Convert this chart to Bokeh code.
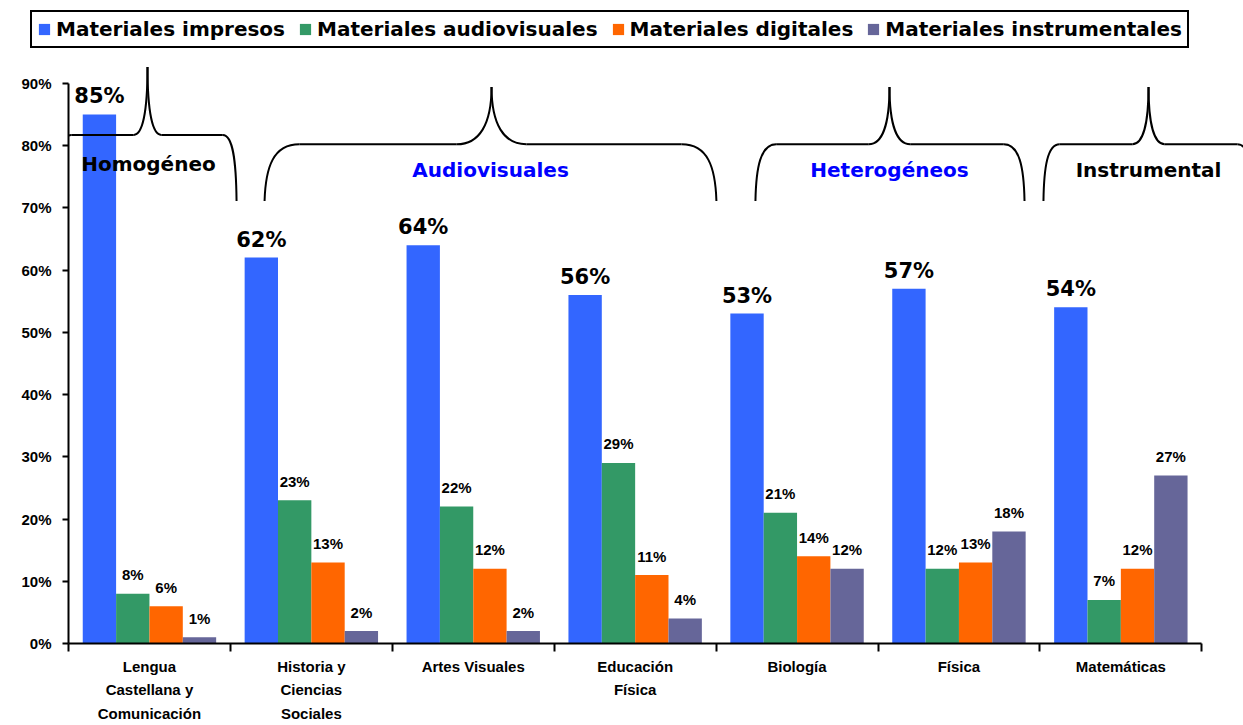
from bokeh.plotting import figure
from bokeh.models import ColumnDataSource, Range1d, FixedTicker, Legend, LegendItem
from bokeh.transform import dodge
from bokeh.core.properties import value
from bokeh.embed import file_html
from bokeh.resources import INLINE

# ---------------- data ----------------
categories = [
    "Lengua\nCastellana y\nComunicación",
    "Historia y\nCiencias\nSociales",
    "Artes Visuales",
    "Educación\nFísica",
    "Biología",
    "Física",
    "Matemáticas",
]
series_names = [
    "Materiales impresos",
    "Materiales audiovisuales",
    "Materiales digitales",
    "Materiales instrumentales",
]
impresos = [85, 62, 64, 56, 53, 57, 54]
audiovisuales = [8, 23, 22, 29, 21, 12, 7]
digitales = [6, 13, 12, 11, 14, 13, 12]
instrumentales = [1, 2, 2, 4, 12, 18, 27]
y_ticks = [0, 10, 20, 30, 40, 50, 60, 70, 80, 90]
group_names = ["Homogéneo", "Audiovisuales", "Heterogéneos", "Instrumental"]

# ---------------- style / layout ----------------
series_colors = ["#3366FF", "#339966", "#FF6600", "#666699"]
group_colors = ["#000000", "#0000FF", "#0000FF", "#000000"]

W = 1243
TOP_H = 61
H = 725 - TOP_H
BORDER_LEFT, BORDER_TOP, BORDER_BOTTOM = 68, 0, 81
PX_PER_CAT = 161.9
Y_END = 93.5
PX_PER_PCT = (H - BORDER_TOP - BORDER_BOTTOM) / Y_END

x_start = 0
x_end = (W - BORDER_LEFT) / PX_PER_CAT

BAR_W = 0.206
offsets = [-1.5 * BAR_W, -0.5 * BAR_W, 0.5 * BAR_W, 1.5 * BAR_W]

LBL_FONT = "Liberation Sans"
BIG_FONT = "DejaVu Sans"

# ---------------- legend strip ----------------
top = figure(width=W, height=TOP_H, x_range=Range1d(0, 1), y_range=Range1d(0, 1),
             output_backend="svg", toolbar_location=None,
             x_axis_location=None, y_axis_location=None,
             min_border_left=0, min_border_right=0, min_border_top=0, min_border_bottom=0)
top.outline_line_color = None
top.grid.visible = False
top.background_fill_color = "white"
top.border_fill_color = "white"
swatches = [top.vbar(x=[0.5], top=[0], bottom=[0], width=0.01, fill_color=c, line_color=None)
            for c in series_colors]
legend = Legend(items=[LegendItem(label=s, renderers=[r]) for s, r in zip(series_names, swatches)],
                orientation="horizontal", location=(30, 13), margin=0,
                border_line_color="black", border_line_width=2, border_line_alpha=1,
                background_fill_color="white", background_fill_alpha=1,
                padding=5, spacing=13, label_standoff=5,
                glyph_width=14, glyph_height=14,
                label_text_font=BIG_FONT, label_text_font_style="bold",
                label_text_font_size="20px", label_text_color="black")
top.add_layout(legend)

# ---------------- main chart ----------------
p = figure(width=W, height=H, x_range=Range1d(x_start, x_end), y_range=Range1d(0, Y_END),
           output_backend="svg", toolbar_location=None,
           min_border_left=BORDER_LEFT, min_border_right=0,
           min_border_top=BORDER_TOP, min_border_bottom=BORDER_BOTTOM)
p.outline_line_color = None
p.grid.visible = False
p.background_fill_color = "white"
p.border_fill_color = "white"

n = len(categories)
centers = [i + 0.5 for i in range(n)]
data = dict(x=centers)
cols = ["impresos", "audiovisuales", "digitales", "instrumentales"]
for c, vals in zip(cols, [impresos, audiovisuales, digitales, instrumentales]):
    data[c] = vals
    data[c + "_lbl"] = [f"{v}%" for v in vals]
source = ColumnDataSource(data)

for k, c in enumerate(cols):
    p.vbar(x=dodge("x", offsets[k]), top=c, width=BAR_W, source=source,
           fill_color=series_colors[k], line_color=None)
    if k == 0:
        p.text(x=dodge("x", offsets[k]), y=c, text=c + "_lbl", source=source,
               text_align="center", text_baseline="alphabetic", y_offset=-18,
               text_font=value(BIG_FONT), text_font_style="bold", text_font_size="21px",
               text_color="black")
    else:
        p.text(x=dodge("x", offsets[k]), y=c, text=c + "_lbl", source=source,
               text_align="center", text_baseline="alphabetic", y_offset=-19,
               text_font=value(LBL_FONT), text_font_style="bold", text_font_size="15px",
               text_color="black")

# y axis
p.yaxis.ticker = FixedTicker(ticks=y_ticks)
p.yaxis.major_label_overrides = {t: f"{t}%" for t in y_ticks}
p.yaxis.bounds = (0, y_ticks[-1])
p.yaxis.axis_line_width = 2
p.yaxis.axis_line_color = "black"
p.yaxis.major_tick_out = 6
p.yaxis.major_tick_in = 0
p.yaxis.major_tick_line_width = 2
p.yaxis.minor_tick_line_color = None
p.yaxis.major_label_standoff = 11
p.yaxis.major_label_text_font = LBL_FONT
p.yaxis.major_label_text_font_style = "bold"
p.yaxis.major_label_text_font_size = "15px"
p.yaxis.major_label_text_color = "black"

# x axis: labels at category centres, tick marks at category boundaries
p.xaxis.ticker = FixedTicker(ticks=centers, minor_ticks=list(range(n + 1)))
p.xaxis.major_label_overrides = {c: lab for c, lab in zip(centers, categories)}
p.xaxis.bounds = (0, n)
p.xaxis.axis_line_width = 2
p.xaxis.axis_line_color = "black"
p.xaxis.major_tick_out = 8
p.xaxis.major_tick_in = 0
p.xaxis.major_tick_line_color = None
p.xaxis.minor_tick_out = 8
p.xaxis.minor_tick_in = 0
p.xaxis.minor_tick_line_width = 2
p.xaxis.minor_tick_line_color = "black"
p.xaxis.major_label_standoff = 6
p.xaxis.major_label_text_font = LBL_FONT
p.xaxis.major_label_text_font_style = "bold"
p.xaxis.major_label_text_font_size = "15px"
p.xaxis.major_label_text_line_height = 1.4
p.xaxis.major_label_text_color = "black"

# braces (annotation geometry, category / percent units)
brace_left = [-0.068, 1.211, 4.243, 6.022]
brace_right = [1.038, 4.002, 5.905, 7.32]
brace_peak = [0.488, 2.613, 5.071, 6.671]
brace_bar_y = [81.7, 80.2, 80.2, 80.2]
brace_top_y = [92.6, 89.4, 89.4, 89.4]
brace_end_y = 71.1
group_label_x = [0.494, 2.607, 5.071, 6.671]
group_label_y = [77.0, 76.1, 76.1, 76.1]

bz = dict(x0=[], y0=[], x1=[], y1=[], cx0=[], cy0=[], cx1=[], cy1=[])
sg = dict(x0=[], y0=[], x1=[], y1=[])


def add_bz(x0, y0, cx0, cy0, cx1, cy1, x1, y1):
    for k, v in zip(["x0", "y0", "cx0", "cy0", "cx1", "cy1", "x1", "y1"],
                    [x0, y0, cx0, cy0, cx1, cy1, x1, y1]):
        bz[k].append(v)


for xl, xr, xp, yb, yt in zip(brace_left, brace_right, brace_peak, brace_bar_y, brace_top_y):
    w = 0.077 * (xr - xl)
    de = yb - brace_end_y
    dp = yt - yb
    add_bz(xl, brace_end_y, xl + 0.03 * w, brace_end_y + 0.6 * de, xl + 0.25 * w, yb, xl + w, yb)
    add_bz(xp - w, yb, xp - 0.35 * w, yb, xp, yb + 0.35 * dp, xp, yt)
    add_bz(xp, yt, xp, yb + 0.35 * dp, xp + 0.35 * w, yb, xp + w, yb)
    add_bz(xr - w, yb, xr - 0.25 * w, yb, xr - 0.03 * w, brace_end_y + 0.6 * de, xr, brace_end_y)
    for a, b in [(xl + w, xp - w), (xp + w, xr - w)]:
        sg["x0"].append(a); sg["x1"].append(b); sg["y0"].append(yb); sg["y1"].append(yb)

p.bezier(source=ColumnDataSource(bz), x0="x0", y0="y0", x1="x1", y1="y1",
         cx0="cx0", cy0="cy0", cx1="cx1", cy1="cy1", line_color="black", line_width=2)
p.segment(source=ColumnDataSource(sg), x0="x0", y0="y0", x1="x1", y1="y1",
          line_color="black", line_width=2)

p.text(x=group_label_x, y=group_label_y, text=group_names, text_color=group_colors,
       text_align="center", text_baseline="alphabetic",
       text_font=value(BIG_FONT), text_font_style="bold", text_font_size="20px")

open("out.html", "w").write(file_html([top, p], INLINE))
